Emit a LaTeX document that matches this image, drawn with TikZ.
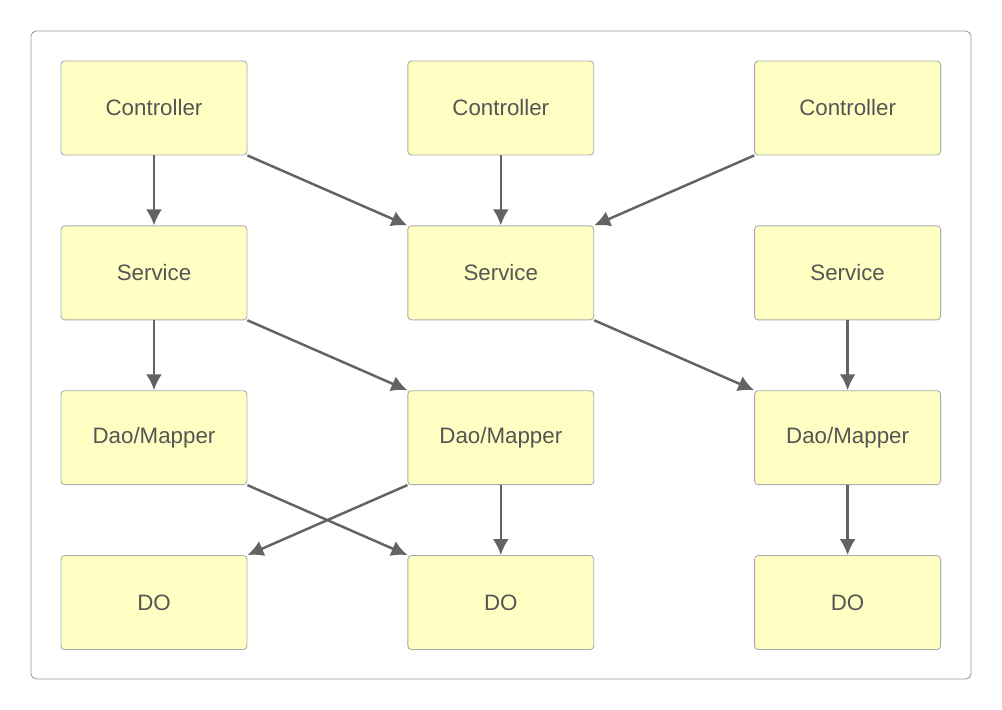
\documentclass[tikz,border=0pt]{standalone}
\usepackage{fontspec}
\setmainfont{Liberation Sans}
\usetikzlibrary{arrows.meta, positioning}

\definecolor{boxfill}{HTML}{FFFFC3}
\definecolor{boxline}{HTML}{ABABAB}
\definecolor{arrowgray}{HTML}{636363}
\definecolor{textgray}{HTML}{555555}

\tikzset{
  layer/.style={draw=boxline, fill=boxfill, line width=0.5pt, rounded corners=2pt,
    minimum width=3.72cm, minimum height=1.88cm, text=textgray,
    font=\fontsize{12.7}{15}\selectfont},
  flow/.style={draw=arrowgray, line width=1.4pt, -{Latex[length=3.2mm,width=3.2mm]}}
}

\begin{document}
\begin{tikzpicture}[x=0.02cm, y=-0.02cm]

\useasboundingbox (0,0) rectangle (1002,710);
\draw[draw=black!40, line width=0.5pt, rounded corners=3pt] (31,31) rectangle (971,679);

\node[layer] (ctrlA) at (154,108) {Controller};
\node[layer, right=3.2cm of ctrlA] (ctrlB) {Controller};
\node[layer, right=3.2cm of ctrlB] (ctrlC) {Controller};

\node[layer, below=1.4cm of ctrlA] (servA) {Service};
\node[layer, right=3.2cm of servA] (servB) {Service};
\node[layer, right=3.2cm of servB] (servC) {Service};

\node[layer, below=1.4cm of servA] (daoA) {Dao/Mapper};
\node[layer, right=3.2cm of daoA] (daoB) {Dao/Mapper};
\node[layer, right=3.2cm of daoB] (daoC) {Dao/Mapper};

\node[layer, below=1.4cm of daoA] (doA) {DO};
\node[layer, right=3.2cm of doA] (doB) {DO};
\node[layer, right=3.2cm of doB] (doC) {DO};

% controller -> service
\draw[flow] (ctrlA.south) -- (servA.north);
\draw[flow] (ctrlA.south east) -- (servB.north west);
\draw[flow] (ctrlB.south) -- (servB.north);
\draw[flow] (ctrlC.south west) -- (servB.north east);

% service -> dao
\draw[flow] (servA.south) -- (daoA.north);
\draw[flow] (servA.south east) -- (daoB.north west);
\draw[flow] (servB.south east) -- (daoC.north west);
\draw[flow] (servC.south) -- (daoC.north);

% dao -> do
\draw[flow] (daoA.south east) -- (doB.north west);
\draw[flow] (daoB.south west) -- (doA.north east);
\draw[flow] (daoB.south) -- (doB.north);
\draw[flow] (daoC.south) -- (doC.north);

\end{tikzpicture}
\end{document}
